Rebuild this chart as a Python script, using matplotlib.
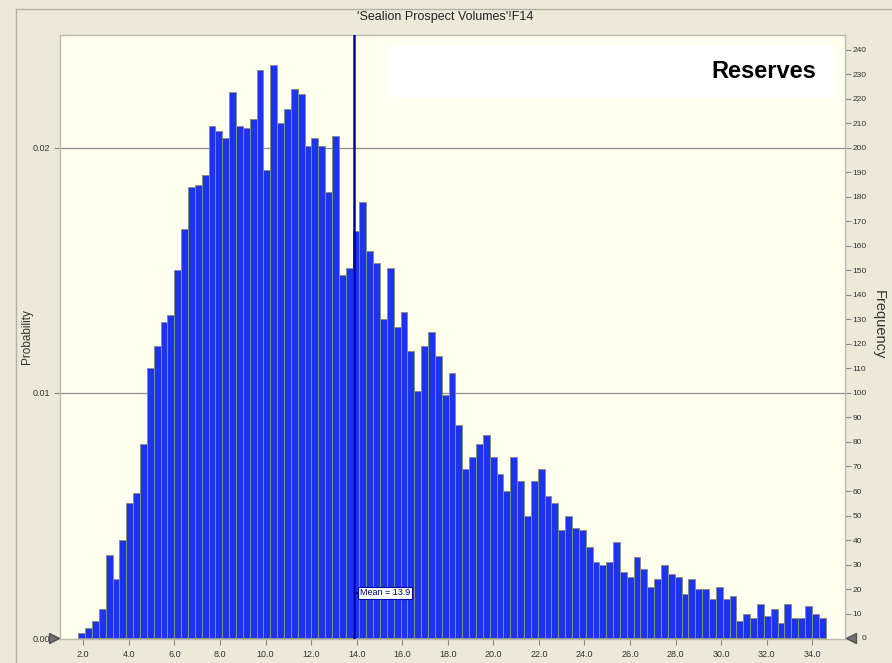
import numpy as np
import matplotlib
matplotlib.use('Agg')
import matplotlib.pyplot as plt
from matplotlib.lines import Line2D
from matplotlib.patches import Rectangle

# Histogram data (frequency per bin, 10000 trials)
bin_start = 1.78
bin_width = 0.301
frequencias = [
    2, 4, 7, 12, 34, 24, 40, 55, 59, 79,
    110, 119, 129, 132, 150, 167, 184, 185, 189, 209,
    207, 204, 223, 209, 208, 212, 232, 191, 234, 210,
    216, 224, 222, 201, 204, 201, 182, 205, 148, 151,
    166, 178, 158, 153, 130, 151, 127, 133, 117, 101,
    119, 125, 115, 99, 108, 87, 69, 74, 79, 83,
    74, 67, 60, 74, 64, 50, 64, 69, 58, 55,
    44, 50, 45, 44, 37, 31, 30, 31, 39, 27,
    25, 33, 28, 21, 24, 30, 26, 25, 18, 24,
    20, 20, 16, 21, 16, 17, 7, 10, 8, 14,
    9, 12, 6, 14, 8, 8, 13, 10, 8,
]
n_total = 10000
media = 13.9
x_ticks = np.arange(2.0, 34.01, 2.0)
freq_ticks = list(range(0, 241, 10))
prob_ticks = [0.00, 0.01, 0.02]

titulo = "'Sealion Prospect Volumes'!F14"

fonte = ['Liberation Sans', 'DejaVu Sans']
plt.rcParams['font.family'] = fonte

fig = plt.figure(figsize=(8.92, 6.63), dpi=100, facecolor='#ECE9D8')
ax = fig.add_axes([60 / 892, 24 / 663, 785 / 892, 604 / 663])
ax.set_facecolor('#FFFFF0')

# Bars
bordas = bin_start + bin_width * np.arange(len(frequencias))
ax.bar(bordas, frequencias, width=bin_width, align='edge',
       color='#1C34EE', edgecolor='#8C8C8C', linewidth=0.7, zorder=2)

ax.set_xlim(0.977, 35.44)
ax.set_ylim(-0.4, 246.1)

# Grid lines at the probability ticks
for p in prob_ticks[1:]:
    ax.axhline(p * n_total, color='#8E8E8E', linewidth=0.9, zorder=1)

# Right axis = frequency
ax.yaxis.tick_right()
ax.set_yticks(freq_ticks)
ax.set_yticklabels([''] + [str(v) for v in freq_ticks[1:]])
ax.tick_params(axis='y', length=4, width=0.8, color='#8A8A8A', pad=1.5,
               labelsize=6, labelcolor='#333333')
ax.set_xticks(x_ticks)
ax.set_xticklabels([f'{v:.1f}' for v in x_ticks])
ax.tick_params(axis='x', length=4, width=0.8, color='#8A8A8A', pad=4,
               labelsize=6.5, labelcolor='#333333')
# the zero label sits to the right of the slider handle
ax.text(1.021, 0, str(freq_ticks[0]), transform=ax.get_yaxis_transform(),
        ha='left', va='center', fontsize=6, color='#333333')

# Left axis = probability
sec = ax.secondary_yaxis('left', functions=(lambda f: f / n_total,
                                            lambda p: p * n_total))
sec.set_yticks(prob_ticks)
sec.set_yticklabels([f'{v:.2f}' for v in prob_ticks])
sec.tick_params(axis='y', length=4, width=0.8, color='#8A8A8A', pad=3,
                labelsize=6.5, labelcolor='#333333')
sec.spines['left'].set_visible(False)

for lado in ['left', 'right', 'top', 'bottom']:
    ax.spines[lado].set_color('#BDB9AC')
    ax.spines[lado].set_linewidth(1.0)

# Mean line and label
ax.axvline(media, color='#0000A8', linewidth=1.8, zorder=3)
ax.annotate(f'Mean = {media}', xy=(media, 18.4), xytext=(4, 0),
            textcoords='offset points', ha='left', va='center',
            fontsize=6.5, color='#000060', zorder=5,
            bbox=dict(boxstyle='square,pad=0.2', fc='white',
                      ec='#0000A8', lw=0.8),
            arrowprops=dict(arrowstyle='-', color='#0000A8', lw=1.0,
                            shrinkA=0, shrinkB=0))

# Slider handles at both ends of the zero line
ax.plot([-0.0076], [0], marker='>', markersize=7, color='#707070',
        markeredgecolor='#505050', transform=ax.get_yaxis_transform(),
        clip_on=False, zorder=6)
ax.plot([1.0076], [0], marker='<', markersize=7, color='#707070',
        markeredgecolor='#505050', transform=ax.get_yaxis_transform(),
        clip_on=False, zorder=6)

# "Reserves" box
ax.add_patch(Rectangle((0.419, 0.897), 0.568, 0.085, transform=ax.transAxes,
                       facecolor='white', edgecolor='none', zorder=4))
ax.text(0.963, 0.939, 'Reserves', transform=ax.transAxes, ha='right',
        va='center', fontsize=17, fontweight='bold', color='black',
        zorder=5)

# Titles and axis labels
fig.text(445 / 892, 1 - 17 / 663, titulo, ha='center', va='center',
         fontsize=9, color='#222222')
fig.text(27 / 892, 1 - 337 / 663, 'Probability', rotation=90, ha='center',
         va='center', fontsize=8.5, color='#333333')
fig.text(879 / 892, 1 - 325 / 663, 'Frequency', rotation=-90, ha='center',
         va='center', fontsize=10.5, color='#333333')

# Outer panel frame
fig.add_artist(Line2D([16 / 892, 16 / 892], [0, 1 - 9 / 663],
                      transform=fig.transFigure, color='#B5B2A5', lw=1))
fig.add_artist(Line2D([16 / 892, 1], [1 - 9 / 663, 1 - 9 / 663],
                      transform=fig.transFigure, color='#B5B2A5', lw=1))

fig.savefig('out.png', dpi=100, facecolor=fig.get_facecolor())
